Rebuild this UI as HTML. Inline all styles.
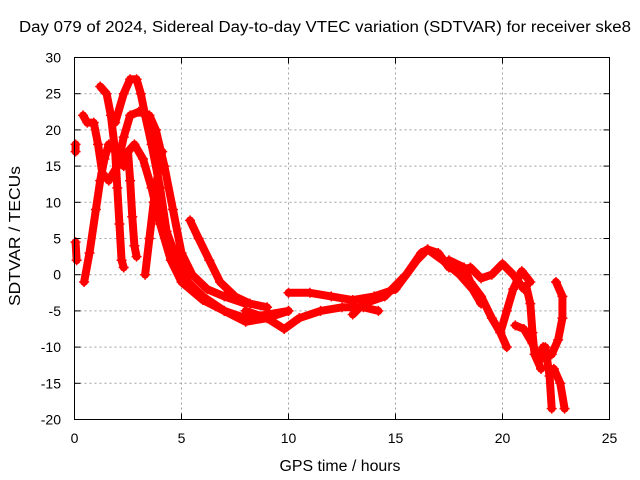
<!DOCTYPE html>
<html><head><meta charset="utf-8"><style>
body{margin:0;background:#fff;}
svg{display:block;font-family:"Liberation Sans",sans-serif;}
</style></head><body>
<svg id="chart" width="640" height="480" viewBox="0 0 640 480">
<text x="325" y="32" font-size="15.5" text-anchor="middle" textLength="612" lengthAdjust="spacingAndGlyphs">Day 079 of 2024, Sidereal Day-to-day VTEC variation (SDTVAR) for receiver ske8</text>
<text x="340" y="471" font-size="15.5" text-anchor="middle" textLength="121" lengthAdjust="spacingAndGlyphs">GPS time / hours</text>
<text transform="translate(20,236) rotate(-90)" font-size="15.5" text-anchor="middle" textLength="140" lengthAdjust="spacingAndGlyphs">SDTVAR / TECUs</text>
<g id="grid"></g>
<g id="marks"></g>
<rect x="74.5" y="57.5" width="535" height="362" fill="none" stroke="#000" stroke-width="1"/>
<g id="ticks"></g>
</svg>
<script>
const xTicks=[0,5,10,15,20,25];
const yTicks=[30,25,20,15,10,5,0,-5,-10,-15,-20];
const track1=[[0.45,-1],[0.7,3],[1.0,9],[1.2,13],[1.4,16],[1.6,18],[2.0,17],[2.3,15],[2.5,17],[2.8,18],[3.2,16],[3.6,12],[4.0,7],[4.5,2],[5,-1],[6,-3.5],[7,-5],[8,-6],[9,-5.5],[10,-5]];
const track2=[[1.2,26],[1.5,25],[1.7,22],[1.9,17],[2.0,12],[2.1,7],[2.2,2],[2.3,1]];
const track3=[[0.4,22],[0.6,21],[0.9,21],[1.1,18],[1.3,14],[1.6,13],[2.0,15],[2.3,19],[2.6,22],[3.0,22.5],[3.5,22],[3.8,20],[4.2,15],[4.6,9],[5.0,3],[5.5,0],[6.2,-2],[7,-3],[8,-4]];
const track4=[[1.9,21],[2.3,25],[2.6,27],[2.9,27],[3.1,25],[3.3,22],[3.6,18],[4.0,12],[4.3,6],[4.8,2],[5.3,-1],[6,-3],[7,-5],[8,-6.5],[9,-6],[10,-5]];
const track5=[[2.5,17],[2.6,13],[2.7,8],[2.8,4],[2.9,2.5]];
const track6=[[3.3,0],[3.5,5],[3.7,10],[3.9,14],[4.1,17]];
const track7=[[5.4,7.5],[5.8,5],[6.3,2],[6.8,-1],[7.5,-3],[8.2,-4],[9,-4.5]];
const track8=[[8,-5],[9,-6],[9.8,-7.5],[10.5,-6],[11.5,-5],[12.5,-4.5],[13.5,-4.5],[14.2,-5]];
const track9=[[10,-2.5],[11,-2.5],[12,-3],[13,-3.5],[14,-3],[15,-2],[15.5,0],[16,2],[16.5,3.5],[17,3],[17.5,1],[18,0.5],[18.5,1],[19,-0.5],[19.5,0],[20,1.5],[20.5,0],[21,-2]];
const track10=[[13,-5.5],[13.5,-4],[14.5,-3],[15.5,0],[16.2,3],[16.5,3.5],[17.2,2],[18,0],[18.6,-2],[19,-4]];
const track11=[[17.5,2],[18.2,1],[18.5,-1],[19,-3],[19.5,-6],[19.9,-8],[20.2,-10]];
const track12=[[19.9,-8],[20.2,-5],[20.5,-2],[20.9,0.5],[21.3,-1]];
const track13=[[20.6,-7],[21,-7.5],[21.4,-9.5],[21.7,-12],[21.9,-10]];
const track14=[[21.1,-1.5],[21.3,-4],[21.4,-8],[21.5,-11],[21.8,-13]];
const track15=[[22.5,-1],[22.8,-3],[22.8,-6],[22.6,-9],[22.3,-11],[22.0,-11]];
const track16=[[22.0,-10],[22.2,-14],[22.3,-18.5]];
const track17=[[22.4,-13],[22.7,-15],[22.9,-18.5]];
const track18=[[0.05,18],[0.05,17]];
const track19=[[0.05,4.5],[0.1,2]];
const tracks=[track1,track2,track3,track4,track5,track6,track7,track8,track9,track10,track11,track12,track13,track14,track15,track16,track17,track18,track19];
const X0=74.5,X1=609.5,Y0=419.5,Y1=57.5;
const xs=h=>X0+(h-0)/(25-0)*(X1-X0);
const ys=v=>Y0-(v-(-20))/(30-(-20))*(Y0-Y1);
const NS="http://www.w3.org/2000/svg";
const grid=document.getElementById('grid'),ticks=document.getElementById('ticks'),marks=document.getElementById('marks');
function mk(tag,attrs,parent){const e=document.createElementNS(NS,tag);for(const k in attrs)e.setAttribute(k,attrs[k]);parent.appendChild(e);return e;}
xTicks.forEach(t=>{
  const x=xs(t);
  if(t>0&&t<25){const g=mk('line',{x1:x,x2:x,y1:Y1,y2:Y0,stroke:'#a0a0a0','stroke-dasharray':'2,3'},grid);
  
  }
  mk('line',{x1:x,x2:x,y1:Y0,y2:Y0-6,stroke:'#000'},ticks);
  mk('line',{x1:x,x2:x,y1:Y1,y2:Y1+6,stroke:'#000'},ticks);
  const l=mk('text',{x:x,y:443,'font-size':'14','text-anchor':'middle'},ticks);
  
  
  l.textContent=t;
});
yTicks.forEach(t=>{
  const y=ys(t);
  if(t<30&&t>-20){const g=mk('line',{x1:X0,x2:X1,y1:y,y2:y,stroke:'#a0a0a0','stroke-dasharray':'2,3'},grid);
  
  }
  mk('line',{x1:X0,x2:X0+6,y1:y,y2:y,stroke:'#000'},ticks);
  mk('line',{x1:X1,x2:X1-6,y1:y,y2:y,stroke:'#000'},ticks);
  const l=mk('text',{x:61,y:y+5,'font-size':'14','text-anchor':'end'},ticks);
  
  
  l.textContent=t;
});
tracks.forEach((tr,i)=>{
  const p=mk('polyline',{points:tr.map(d=>xs(d[0])+','+ys(d[1])).join(' '),fill:'none',stroke:'#ff0000','stroke-width':'8','stroke-linejoin':'round','stroke-linecap':'round'},marks);
  
  
  tr.forEach(d=>{
    const x=xs(d[0]),y=ys(d[1]);
    const m=mk('path',{d:`M${x-5},${y}H${x+5}M${x},${y-5}V${y+5}`,stroke:'#ff0000','stroke-width':'1.5'},marks);
    
    
  });
});
</script>
</body></html>
